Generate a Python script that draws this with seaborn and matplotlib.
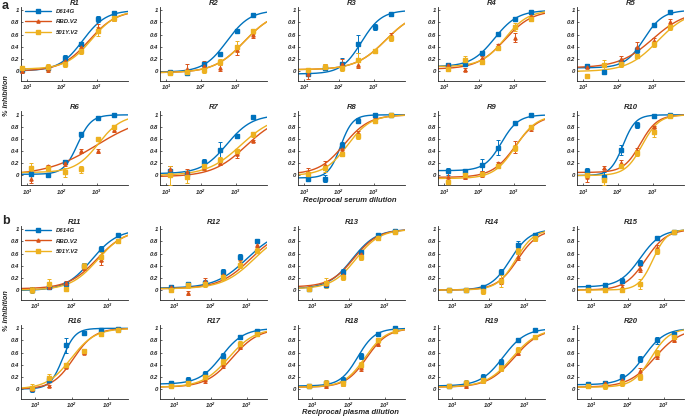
import numpy as np
import pandas as pd
import matplotlib
matplotlib.use("Agg")
import matplotlib.pyplot as plt
from matplotlib.lines import Line2D
import seaborn as sns

sns.set_style("ticks")
plt.rcParams["font.family"] = ["Liberation Sans", "DejaVu Sans"]
plt.rcParams["mathtext.fontset"] = "custom"
plt.rcParams["mathtext.it"] = "Liberation Sans:italic:bold"
plt.rcParams["mathtext.rm"] = "Liberation Sans:italic:bold"
plt.rcParams["mathtext.default"] = "it"

## Data
variants = ["D614G", "RBD.V2", "501Y.V2"]
colors = ["#0072BD", "#D95319", "#EDB120"]
markers = ["s", "^", "s"]

serum_dilution = [13, 40, 120, 360, 1080, 3240]
R1_dilution = [7, 40, 120, 360, 1080, 3240]   # R1 starts at a lower dilution
plasma_dilution = [8, 24, 72, 216, 648, 1944]
xtick_values = [10, 100, 1000]
xtick_labels = ["$10^{1}$", "$10^{2}$", "$10^{3}$"]
ytick_values = [0, 0.2, 0.4, 0.6, 0.8, 1]
ytick_labels = ["0", "0.2", "0.4", "0.6", "0.8", "1"]

# mean % inhibition, one row per variant (D614G, RBD.V2, 501Y.V2)
R1_mean = [[0.01, 0.04, 0.22, 0.44, 0.85, 0.96], [0.0, 0.03, 0.17, 0.4, 0.7, 0.88], [0.04, 0.06, 0.12, 0.33, 0.65, 0.88]]
R1_err = [[0.02, 0.03, 0.05, 0.03, 0.05, 0.02], [0.03, 0.04, 0.05, 0.05, 0.07, 0.05], [0.03, 0.06, 0.05, 0.05, 0.08, 0.06]]
R2_mean = [[-0.02, -0.04, 0.12, 0.28, 0.66, 0.92], [-0.02, 0.03, 0.08, 0.05, 0.35, 0.6], [-0.04, -0.02, 0.02, 0.15, 0.4, 0.65]]
R2_err = [[0.01, 0.01, 0.02, 0.02, 0.02, 0.01], [0.03, 0.08, 0.08, 0.05, 0.08, 0.06], [0.03, 0.04, 0.05, 0.05, 0.09, 0.04]]
R3_mean = [[-0.05, 0.04, 0.12, 0.44, 0.72, 0.93], [-0.05, 0.07, 0.12, 0.1, 0.33, 0.57], [0.02, 0.07, 0.05, 0.18, 0.33, 0.55]]
R3_err = [[0.02, 0.02, 0.1, 0.15, 0.05, 0.03], [0.08, 0.05, 0.07, 0.05, 0.02, 0.06], [0.03, 0.04, 0.05, 0.12, 0.02, 0.05]]
R4_mean = [[0.1, 0.12, 0.3, 0.61, 0.85, 0.97], [0.1, 0.02, 0.22, 0.42, 0.55, 0.9], [0.03, 0.18, 0.14, 0.38, 0.72, 0.85]]
R4_err = [[0.02, 0.02, 0.02, 0.02, 0.02, 0.01], [0.02, 0.02, 0.03, 0.02, 0.07, 0.03], [0.02, 0.07, 0.02, 0.03, 0.07, 0.03]]
R5_mean = [[0.08, -0.02, 0.15, 0.35, 0.76, 0.97], [0.07, 0.1, 0.2, 0.4, 0.5, 0.8], [-0.08, 0.1, 0.12, 0.25, 0.45, 0.72]]
R5_err = [[0.02, 0.02, 0.03, 0.05, 0.03, 0.02], [0.02, 0.03, 0.05, 0.08, 0.05, 0.06], [0.01, 0.08, 0.05, 0.03, 0.05, 0.05]]
R6_mean = [[0.02, 0.0, 0.22, 0.68, 0.95, 0.99], [-0.05, 0.15, 0.2, 0.4, 0.4, 0.75], [0.12, 0.12, 0.05, 0.1, 0.6, 0.8]]
R6_err = [[0.02, 0.01, 0.03, 0.04, 0.02, 0.01], [0.08, 0.03, 0.05, 0.03, 0.03, 0.04], [0.08, 0.03, 0.08, 0.06, 0.02, 0.04]]
R7_mean = [[0.08, 0.03, 0.22, 0.42, 0.65, 0.97], [0.1, 0.05, 0.12, 0.2, 0.35, 0.57], [0.0, -0.02, 0.15, 0.25, 0.4, 0.68]]
R7_err = [[0.08, 0.05, 0.05, 0.14, 0.04, 0.02], [0.05, 0.05, 0.03, 0.03, 0.06, 0.02], [0.15, 0.1, 0.06, 0.06, 0.04, 0.04]]
R8_mean = [[-0.05, -0.05, 0.5, 0.9, 1.0, 1.0], [0.06, 0.17, 0.43, 0.7, 0.92, 1.0], [0.02, 0.12, 0.35, 0.65, 0.9, 1.0]]
R8_err = [[0.02, 0.06, 0.05, 0.04, 0.01, 0.01], [0.07, 0.07, 0.05, 0.03, 0.02, 0.01], [0.03, 0.06, 0.03, 0.05, 0.02, 0.01]]
R9_mean = [[0.07, 0.08, 0.17, 0.46, 0.87, 0.99], [-0.02, -0.03, 0.02, 0.2, 0.47, 0.78], [-0.1, 0.0, 0.03, 0.15, 0.45, 0.8]]
R9_err = [[0.06, 0.03, 0.1, 0.13, 0.02, 0.01], [0.1, 0.02, 0.05, 0.03, 0.1, 0.05], [0.02, 0.03, 0.03, 0.03, 0.05, 0.04]]
R10_mean = [[0.08, -0.02, 0.42, 0.83, 0.98, 0.99], [-0.02, 0.13, 0.2, 0.4, 0.8, 0.98], [0.0, -0.08, 0.15, 0.37, 0.72, 0.98]]
R10_err = [[0.04, 0.08, 0.08, 0.05, 0.01, 0.01], [0.08, 0.02, 0.06, 0.05, 0.02, 0.01], [0.03, 0.08, 0.03, 0.05, 0.08, 0.01]]
R11_mean = [[0.0, 0.05, 0.1, 0.4, 0.68, 0.9], [0.02, 0.05, 0.12, 0.38, 0.5, 0.8], [0.0, 0.1, 0.02, 0.4, 0.55, 0.8]]
R11_err = [[0.03, 0.02, 0.04, 0.04, 0.04, 0.02], [0.03, 0.03, 0.03, 0.05, 0.08, 0.03], [0.05, 0.08, 0.02, 0.05, 0.08, 0.03]]
R12_mean = [[0.05, 0.1, 0.12, 0.3, 0.55, 0.8], [0.05, -0.05, 0.15, 0.25, 0.45, 0.75], [0.0, 0.08, 0.1, 0.22, 0.42, 0.65]]
R12_err = [[0.03, 0.03, 0.04, 0.04, 0.04, 0.03], [0.03, 0.03, 0.05, 0.05, 0.05, 0.04], [0.03, 0.05, 0.05, 0.05, 0.05, 0.04]]
R13_mean = [[0.02, 0.08, 0.3, 0.62, 0.9, 0.97], [0.05, 0.1, 0.25, 0.6, 0.88, 0.97], [0.02, 0.12, 0.22, 0.55, 0.85, 0.96]]
R13_err = [[0.03, 0.03, 0.04, 0.04, 0.03, 0.02], [0.03, 0.03, 0.05, 0.05, 0.03, 0.02], [0.03, 0.08, 0.05, 0.05, 0.03, 0.02]]
R14_mean = [[0.0, 0.0, 0.05, 0.3, 0.75, 0.9], [0.0, 0.0, 0.0, 0.15, 0.55, 0.85], [0.0, 0.0, -0.02, 0.15, 0.65, 0.85]]
R14_err = [[0.03, 0.03, 0.03, 0.04, 0.05, 0.03], [0.03, 0.03, 0.03, 0.05, 0.05, 0.04], [0.03, 0.03, 0.05, 0.1, 0.05, 0.04]]
R15_mean = [[0.05, 0.08, 0.15, 0.45, 0.85, 0.95], [0.0, 0.0, 0.05, 0.35, 0.7, 0.95], [0.0, 0.0, 0.0, 0.1, 0.65, 0.95]]
R15_err = [[0.03, 0.03, 0.04, 0.04, 0.03, 0.02], [0.03, 0.03, 0.04, 0.05, 0.05, 0.02], [0.03, 0.03, 0.04, 0.08, 0.05, 0.02]]
R16_mean = [[0.0, 0.15, 0.72, 0.93, 0.97, 0.99], [0.0, 0.05, 0.37, 0.6, 0.9, 0.99], [0.02, 0.18, 0.4, 0.63, 0.9, 0.98]]
R16_err = [[0.05, 0.02, 0.12, 0.03, 0.02, 0.01], [0.03, 0.02, 0.03, 0.03, 0.02, 0.01], [0.06, 0.06, 0.03, 0.03, 0.02, 0.01]]
R17_mean = [[0.1, 0.15, 0.25, 0.55, 0.85, 0.95], [0.05, 0.1, 0.15, 0.4, 0.7, 0.9], [0.05, 0.1, 0.2, 0.45, 0.75, 0.9]]
R17_err = [[0.04, 0.04, 0.05, 0.05, 0.03, 0.02], [0.04, 0.04, 0.05, 0.05, 0.04, 0.03], [0.04, 0.05, 0.05, 0.05, 0.04, 0.03]]
R18_mean = [[0.05, 0.1, 0.15, 0.55, 0.9, 1.0], [0.05, 0.05, 0.1, 0.35, 0.75, 0.95], [0.05, 0.1, 0.1, 0.4, 0.8, 0.95]]
R18_err = [[0.03, 0.04, 0.05, 0.05, 0.03, 0.01], [0.03, 0.04, 0.05, 0.05, 0.04, 0.02], [0.03, 0.05, 0.05, 0.05, 0.04, 0.02]]
R19_mean = [[0.05, 0.1, 0.2, 0.45, 0.8, 0.97], [0.05, 0.05, 0.15, 0.35, 0.6, 0.85], [0.05, 0.1, 0.15, 0.35, 0.65, 0.85]]
R19_err = [[0.03, 0.04, 0.05, 0.05, 0.03, 0.02], [0.03, 0.04, 0.05, 0.05, 0.04, 0.03], [0.03, 0.05, 0.05, 0.05, 0.04, 0.03]]
R20_mean = [[0.08, 0.1, 0.2, 0.5, 0.8, 0.9], [0.05, 0.1, 0.15, 0.3, 0.55, 0.8], [0.05, 0.05, 0.1, 0.2, 0.6, 0.85]]
R20_err = [[0.03, 0.04, 0.05, 0.05, 0.05, 0.03], [0.03, 0.04, 0.05, 0.05, 0.05, 0.03], [0.03, 0.05, 0.05, 0.05, 0.05, 0.03]]

# 4-parameter logistic fit per variant: bottom, top, log10(ID50), hill slope
R1_fit = [[0.0, 1.0, 2.6, 1.3], [0.0, 1.0, 2.78, 1.1], [0.03, 1.0, 2.85, 1.2]]
R2_fit = [[-0.02, 1.0, 2.75, 1.3], [-0.03, 1.0, 3.25, 1.0], [-0.03, 1.0, 3.25, 1.0]]
R3_fit = [[-0.05, 1.0, 2.65, 1.5], [0.02, 1.0, 3.35, 1.0], [0.02, 1.0, 3.35, 1.0]]
R4_fit = [[0.07, 1.0, 2.45, 1.3], [0.03, 1.0, 2.75, 1.1], [0.07, 1.0, 2.75, 1.3]]
R5_fit = [[0.05, 1.0, 2.75, 1.6], [0.05, 1.0, 3.0, 0.9], [-0.01, 1.0, 3.15, 1.0]]
R6_fit = [[0.02, 1.0, 2.45, 2.2], [0.0, 1.0, 3.0, 0.6], [0.05, 1.0, 3.05, 1.3]]
R7_fit = [[0.03, 1.0, 2.75, 1.2], [-0.02, 1.0, 3.3, 0.9], [0.0, 1.0, 3.15, 0.9]]
R8_fit = [[-0.04, 1.0, 2.05, 2.5], [0.02, 1.0, 2.15, 1.2], [0.0, 1.0, 2.25, 1.3]]
R9_fit = [[0.08, 1.0, 2.65, 1.8], [-0.03, 1.0, 3.05, 1.3], [-0.05, 1.0, 3.05, 1.4]]
R10_fit = [[0.0, 1.0, 2.15, 2.4], [0.05, 1.0, 2.65, 1.8], [0.0, 1.0, 2.7, 1.8]]
R11_fit = [[-0.01, 1.0, 2.55, 1.2], [0.02, 1.0, 2.7, 1.1], [0.0, 1.0, 2.72, 1.15]]
R12_fit = [[0.03, 1.0, 3.0, 1.0], [0.02, 1.0, 3.1, 1.0], [0.02, 1.0, 3.2, 1.0]]
R13_fit = [[0.02, 1.0, 2.1, 1.3], [0.05, 1.0, 2.15, 1.3], [0.02, 1.0, 2.2, 1.3]]
R14_fit = [[0.0, 1.0, 2.6, 1.6], [0.0, 1.0, 2.8, 1.5], [0.0, 1.0, 2.75, 1.7]]
R15_fit = [[0.05, 1.0, 2.35, 1.5], [0.0, 1.0, 2.5, 1.5], [0.0, 1.0, 2.7, 2.2]]
R16_fit = [[0.0, 1.0, 1.75, 2.5], [0.0, 1.0, 2.05, 1.5], [0.0, 1.0, 1.98, 1.3]]
R17_fit = [[0.08, 1.0, 2.3, 1.4], [0.03, 1.0, 2.6, 1.2], [0.03, 1.0, 2.5, 1.2]]
R18_fit = [[0.05, 1.0, 2.25, 1.8], [0.03, 1.0, 2.5, 1.5], [0.03, 1.0, 2.45, 1.5]]
R19_fit = [[0.05, 1.0, 2.4, 1.4], [0.03, 1.0, 2.7, 1.2], [0.03, 1.0, 2.65, 1.2]]
R20_fit = [[0.07, 1.0, 2.45, 1.5], [0.03, 1.0, 2.75, 1.2], [0.03, 1.0, 2.65, 1.7]]

panels = [
    ("R1", R1_mean, R1_err, R1_fit), ("R2", R2_mean, R2_err, R2_fit),
    ("R3", R3_mean, R3_err, R3_fit), ("R4", R4_mean, R4_err, R4_fit),
    ("R5", R5_mean, R5_err, R5_fit), ("R6", R6_mean, R6_err, R6_fit),
    ("R7", R7_mean, R7_err, R7_fit), ("R8", R8_mean, R8_err, R8_fit),
    ("R9", R9_mean, R9_err, R9_fit), ("R10", R10_mean, R10_err, R10_fit),
    ("R11", R11_mean, R11_err, R11_fit), ("R12", R12_mean, R12_err, R12_fit),
    ("R13", R13_mean, R13_err, R13_fit), ("R14", R14_mean, R14_err, R14_fit),
    ("R15", R15_mean, R15_err, R15_fit), ("R16", R16_mean, R16_err, R16_fit),
    ("R17", R17_mean, R17_err, R17_fit), ("R18", R18_mean, R18_err, R18_fit),
    ("R19", R19_mean, R19_err, R19_fit), ("R20", R20_mean, R20_err, R20_fit),
]


def logistic(x, bottom, top, log_ec50, hill):
    return bottom + (top - bottom) / (1 + 10 ** ((log_ec50 - np.log10(x)) * hill))


## Figure layout (pixel based, 685 x 417)
W, H = 685, 417
fig = plt.figure(figsize=(W / 100, H / 100), dpi=100)

col_left = [21, 160, 298, 438, 577]
row_top = [6.6, 111.2, 225.7, 324.7]
ax_w, ax_h = 107, 74
ylim = (-0.16, 1.06)

for i, (name, mean, err, fit) in enumerate(panels):
    row, col = divmod(i, 5)
    left, top = col_left[col], row_top[row]
    ax = fig.add_axes([left / W, 1 - (top + ax_h) / H, ax_w / W, ax_h / H])

    if i < 10:
        dil = R1_dilution if name == "R1" else serum_dilution
        xlim = (10 ** 0.83, 10 ** 3.9)
    else:
        dil = plasma_dilution
        xlim = (10 ** 0.6, 10 ** 3.56)

    # fitted curves
    grid = np.logspace(np.log10(xlim[0]), np.log10(xlim[1]), 200)
    curve_df = pd.concat([
        pd.DataFrame({"dilution": grid,
                      "inhibition": logistic(grid, *fit[k]),
                      "variant": variants[k]})
        for k in range(3)
    ])
    sns.lineplot(data=curve_df, x="dilution", y="inhibition", hue="variant",
                 palette=dict(zip(variants, colors)), estimator=None, sort=False,
                 lw=1.0, legend=False, ax=ax)

    # measured points with error bars
    for k in range(3):
        ax.errorbar(dil, mean[k], yerr=err[k], fmt=markers[k], color=colors[k],
                    ms=2.3, capsize=1.6, elinewidth=0.7, capthick=0.7, zorder=3,
                    clip_on=False)

    ax.set_xscale("log")
    ax.set_xlim(*xlim)
    ax.set_ylim(*ylim)
    ax.set_xticks(xtick_values)
    ax.set_xticklabels(xtick_labels)
    ax.set_xticks([], minor=True)
    ax.set_yticks(ytick_values)
    ax.set_yticklabels(ytick_labels)
    ax.tick_params(labelsize=4.3, length=1.5, width=0.5, direction="in", pad=1.5)
    for lab in ax.get_yticklabels():
        lab.set_fontstyle("italic")
        lab.set_fontweight("bold")
    ax.set_xlabel("")
    ax.set_ylabel("")
    sns.despine(ax=ax)
    for s in ["left", "bottom"]:
        ax.spines[s].set_linewidth(0.6)
    ax.set_title(name, fontsize=5.5, fontstyle="italic", fontweight="bold", pad=1.5)

    if name in ("R1", "R11"):
        handles = [Line2D([0], [0], color=colors[k], marker=markers[k], ms=2.3, lw=1.0)
                   for k in range(3)]
        ax.legend(handles, variants, loc="upper left", frameon=False,
                  prop={"size": 4.3, "style": "italic", "weight": "bold"},
                  handlelength=4.5, labelspacing=0.9, borderaxespad=0.2,
                  bbox_to_anchor=(0.0, 1.02))

# panel letters and shared labels
fig.text(2 / W, 1 - 6 / H, "a", fontsize=9, fontweight="bold", va="center")
fig.text(2 / W, 1 - 221 / H, "b", fontsize=9, fontweight="bold", va="center")
for yc in (96, 311):
    fig.text(6 / W, 1 - yc / H, "% Inhibition", rotation=90, fontsize=5.2,
             fontstyle="italic", fontweight="bold", ha="center", va="center")
fig.text(350 / W, 1 - 200.5 / H, "Reciprocal serum dilution", fontsize=5.5,
         fontstyle="italic", fontweight="bold", ha="center", va="center")
fig.text(350 / W, 1 - 413 / H, "Reciprocal plasma dilution", fontsize=5.5,
         fontstyle="italic", fontweight="bold", ha="center", va="center")

fig.savefig("out.png", dpi=100)
